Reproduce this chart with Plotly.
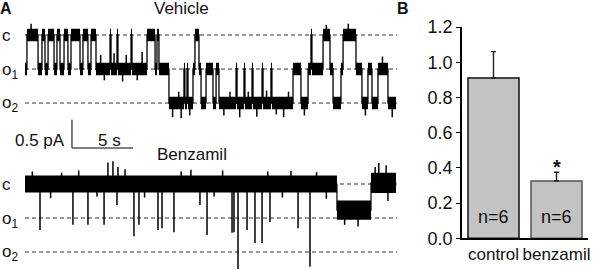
import plotly.graph_objects as go

# ---------------- data ----------------
# Panel A, vehicle trace: dwell start times (s) and number of open channels
VEH_T = [0.00, 0.16, 1.07, 1.39, 1.64, 1.89, 2.38, 2.62, 2.87, 3.20, 3.52, 3.77,
         4.51, 4.75, 5.16, 5.41, 5.82, 6.97, 7.05, 7.54, 7.62, 8.69, 8.77,
         10.00, 10.66, 10.82, 10.98, 11.80, 13.03, 13.11, 13.28, 13.36,
         13.77, 13.93, 14.26, 14.43, 14.84, 15.41, 15.66, 15.90,
         17.30, 17.38, 17.95, 18.03, 18.61, 18.69, 19.43, 19.51, 20.16, 20.24,
         21.97, 22.62, 23.20, 23.44, 23.52, 24.43, 25.00, 25.25, 25.90, 26.07,
         27.13, 27.62, 28.11, 28.44, 28.93, 29.75]
VEH_STATE = [1, 0, 1, 0, 1, 0, 1, 0, 1, 0, 1, 0,
             1, 0, 1, 0, 1, 0, 1, 0, 1, 0, 1,
             0, 1, 0, 1, 2, 1, 2, 1, 2,
             1, 0, 1, 2, 1, 2, 1, 2,
             1, 2, 1, 2, 1, 2, 1, 2, 1, 2,
             1, 2, 1, 0, 1, 0, 1, 2, 1, 0,
             1, 2, 1, 2, 1, 2]
VEH_END = 30.41
VEH_NOISE = 0.11          # pA, half-width of the noise band
# brief noise excursions on the vehicle trace (time s, offset from level pA)
VEH_SPK_T = [0.50, 6.20, 6.50, 7.30, 8.00, 8.30, 9.20, 9.60, 12.10, 12.60, 12.80, 13.50,
             16.30, 16.80, 17.60, 18.30, 19.00, 19.80, 20.60, 21.20, 21.60, 22.90,
             24.70, 26.50, 27.90, 29.30, 30.10]
VEH_SPK_DI = [0.20, 0.25, -0.20, 0.28, -0.22, 0.25, -0.20, 0.30, -0.25, 0.20, -0.27, -0.22,
              -0.22, 0.20, -0.25, 0.20, -0.24, 0.22, -0.20, -0.25, 0.20, -0.22,
              0.18, 0.20, -0.22, 0.22, -0.25]

# Panel A, benzamil trace: segments (start s, current pA, noise pA) and brief events
BEN_SEG_T = [0.00, 25.57, 28.36]
BEN_SEG_I = [0.00, -0.46, 0.02]
BEN_SEG_NOISE = [0.15, 0.17, 0.18]
BEN_END = 30.41
BEN_SPK_T = [1.23, 3.93, 5.16, 6.48, 7.54, 8.93, 9.34, 10.90, 11.23, 12.21,
             14.34, 14.92, 16.97, 17.13, 17.46, 18.20, 18.85, 19.43, 20.08,
             22.38, 23.36, 6.80, 7.21, 7.62, 29.00, 29.60, 29.75,
             0.60, 2.10, 3.00, 4.40, 5.90, 8.20, 9.80, 12.80, 13.60, 15.50,
             16.20, 19.90, 21.10, 21.80, 23.90, 24.70, 26.20, 27.30, 28.70]
BEN_SPK_I = [-0.81, -0.72, -0.72, -0.72, -0.37, -0.92, -0.72, -0.81, -0.78, -0.85,
             -0.37, -0.90, -0.86, -0.85, -1.50, -0.81, -1.04, -1.04, -0.67,
             -0.78, -1.46, 0.38, 0.40, 0.30, 0.37, 0.33, -0.30,
             0.22, -0.25, 0.20, 0.24, -0.22, 0.26, -0.24, 0.22, 0.25, -0.22,
             0.24, 0.22, -0.24, 0.23, 0.21, -0.26, -0.72, -0.75, 0.30]

I_UNIT = 0.6                                  # pA per open channel
LEVEL_LABELS = ["c", "o<sub>1</sub>", "o<sub>2</sub>"]
SCALE_T, SCALE_I = 5, 0.5                     # scale bar: 5 s, 0.5 pA

# Panel B
GROUPS = ["control", "benzamil"]
MEANS = [0.91, 0.325]
SEMS = [0.15, 0.05]
NS = [6, 6]
B_TICKS = [0.0, 0.2, 0.4, 0.6, 0.8, 1.0, 1.2]

# ---------------- layout helpers ----------------
W, H = 600, 270
FONT = "Liberation Sans, Arial, sans-serif"
PX_PER_S = 12.2
PX_PER_PA = 56.7
T0_PX = 25
VEH_C_PX = 35
BEN_C_PX = 184


def px(x):
    return x / W


def py(y):
    return 1 - y / H


def ribbon(ts, levels, halfs, t_end):
    bounds = list(ts) + [t_end]
    tx, ty, bx, by = [], [], [], []
    for i, lv in enumerate(levels):
        a, b = bounds[i], bounds[i + 1]
        tx += [a, b]
        ty += [lv + halfs[i]] * 2
        bx += [a, b]
        by += [lv - halfs[i]] * 2
    return tx + bx[::-1], ty + by[::-1]


def steps(ts, levels, t_end):
    bounds = list(ts) + [t_end]
    xs, ys = [], []
    for i, lv in enumerate(levels):
        xs += [bounds[i], bounds[i + 1]]
        ys += [lv, lv]
    return xs, ys


def level_at(t, ts, levels):
    lv = levels[0]
    for st, li in zip(ts, levels):
        if t >= st:
            lv = li
    return lv


fig = go.Figure()

# vehicle
veh_I = [-s * I_UNIT for s in VEH_STATE]
rx, ry = ribbon(VEH_T, veh_I, [VEH_NOISE] * len(veh_I), VEH_END)
fig.add_trace(go.Scatter(x=rx, y=ry, fill="toself", fillcolor="black", mode="lines",
                         line=dict(width=0, color="black"), xaxis="x", yaxis="y",
                         hoverinfo="skip"))
sx, sy = steps(VEH_T, veh_I, VEH_END)
fig.add_trace(go.Scatter(x=sx, y=sy, mode="lines", line=dict(width=1.3, color="black"),
                         xaxis="x", yaxis="y", hoverinfo="skip"))
kx, ky = [], []
for t, d in zip(VEH_SPK_T, VEH_SPK_DI):
    b = level_at(t, VEH_T, veh_I)
    kx += [t, t, None]
    ky += [b, b + d, None]
fig.add_trace(go.Scatter(x=kx, y=ky, mode="lines", line=dict(width=1.5, color="black"),
                         xaxis="x", yaxis="y", hoverinfo="skip"))

# benzamil
rx, ry = ribbon(BEN_SEG_T, BEN_SEG_I, BEN_SEG_NOISE, BEN_END)
fig.add_trace(go.Scatter(x=rx, y=ry, fill="toself", fillcolor="black", mode="lines",
                         line=dict(width=0, color="black"), xaxis="x", yaxis="y2",
                         hoverinfo="skip"))
sx, sy = steps(BEN_SEG_T, BEN_SEG_I, BEN_END)
fig.add_trace(go.Scatter(x=sx, y=sy, mode="lines", line=dict(width=1.2, color="black"),
                         xaxis="x", yaxis="y2", hoverinfo="skip"))
kx, ky = [], []
for t, i in zip(BEN_SPK_T, BEN_SPK_I):
    kx += [t, t, None]
    ky += [level_at(t, BEN_SEG_T, BEN_SEG_I), i, None]
fig.add_trace(go.Scatter(x=kx, y=ky, mode="lines", line=dict(width=1.5, color="black"),
                         xaxis="x", yaxis="y2", hoverinfo="skip"))

# panel B bars
fig.add_trace(go.Bar(x=GROUPS, y=MEANS, xaxis="x2", yaxis="y3", width=0.81,
                     marker=dict(color="#c3c3c3", line=dict(color=["#111111", "#555555"], width=1.5)),
                     error_y=dict(type="data", array=SEMS, arrayminus=[0] * len(SEMS),
                                  symmetric=False, color="#222222", thickness=1.4, width=2.5),
                     hoverinfo="skip"))

shapes = []
# dashed level lines
for k in range(3):
    for yref in ("y", "y2"):
        shapes.append(dict(type="line", xref="x", yref=yref, x0=0, x1=VEH_END + 0.1,
                           y0=-k * I_UNIT, y1=-k * I_UNIT, layer="below",
                           line=dict(color="#333333", width=1, dash="4px,3px")))
# scale bar
sb_t, sb_i = 3.85, -1.993
shapes.append(dict(type="line", xref="x", yref="y", x0=sb_t, x1=sb_t, y0=sb_i, y1=sb_i + SCALE_I,
                   line=dict(color="black", width=1)))
shapes.append(dict(type="line", xref="x", yref="y", x0=sb_t, x1=sb_t + SCALE_T, y0=sb_i, y1=sb_i,
                   line=dict(color="black", width=1)))

ann = []


def text(x, y, s, size=17, xa="center", bold=False, xref="paper"):
    ann.append(dict(x=x, y=py(y), xref=xref, yref="paper", text=("<b>%s</b>" % s) if bold else s,
                    showarrow=False, xanchor=xa, yanchor="middle",
                    font=dict(family=FONT, size=size, color="#111111")))


text(px(6), 9, "A", 16, bold=True)
text(px(403), 9, "B", 16, bold=True)
text(px(181.5), 9, "Vehicle", 17)
text(px(192), 154, "Benzamil", 17)
for lab, y in zip(LEVEL_LABELS, [36, 71, 104]):
    text(px(0), y, lab, 17, xa="left")
for lab, y in zip(LEVEL_LABELS, [184, 220, 253]):
    text(px(0), y, lab, 17, xa="left")
text(px(67), 140, "%s pA" % SCALE_I, 17, xa="right")
text(px(109), 140, "%d s" % SCALE_T, 17)
for g, n in zip(GROUPS, NS):
    text(g, 217, "n=%d" % n, 18, xref="x2")
text(GROUPS[1], 167, "*", 20, bold=True, xref="x2")

fig.update_layout(
    width=W, height=H, margin=dict(l=0, r=0, t=0, b=0, pad=0, autoexpand=False), autosize=False,
    paper_bgcolor="white", plot_bgcolor="rgba(0,0,0,0)", showlegend=False,
    shapes=shapes, annotations=ann,
    xaxis=dict(domain=[0, 1], range=[-T0_PX / PX_PER_S, (W - T0_PX) / PX_PER_S], visible=False,
               automargin=False),
    yaxis=dict(domain=[0, 1], range=[-(H - VEH_C_PX) / PX_PER_PA, VEH_C_PX / PX_PER_PA], visible=False,
               automargin=False),
    yaxis2=dict(domain=[0, 1], range=[-(H - BEN_C_PX) / PX_PER_PA, BEN_C_PX / PX_PER_PA],
                visible=False, overlaying="y", anchor="x", automargin=False),
    xaxis2=dict(domain=[px(462), px(588)], range=[-0.5, 1.5], anchor="y3", showline=True,
                linecolor="black", linewidth=1.5, ticks="", showgrid=False, zeroline=False,
                automargin=False, tickfont=dict(family=FONT, size=17, color="#111111")),
    yaxis3=dict(domain=[py(238.3), py(27)], range=[0, 1.2], anchor="x2", showline=True,
                linecolor="black", linewidth=1.5, ticks="outside", ticklen=4, tickwidth=1.2,
                tickcolor="black", tickvals=B_TICKS, tickformat=".1f", showgrid=False,
                automargin=False, zeroline=False,
                tickfont=dict(family=FONT, size=18, color="#111111")),
)

fig.write_html("out.html")
